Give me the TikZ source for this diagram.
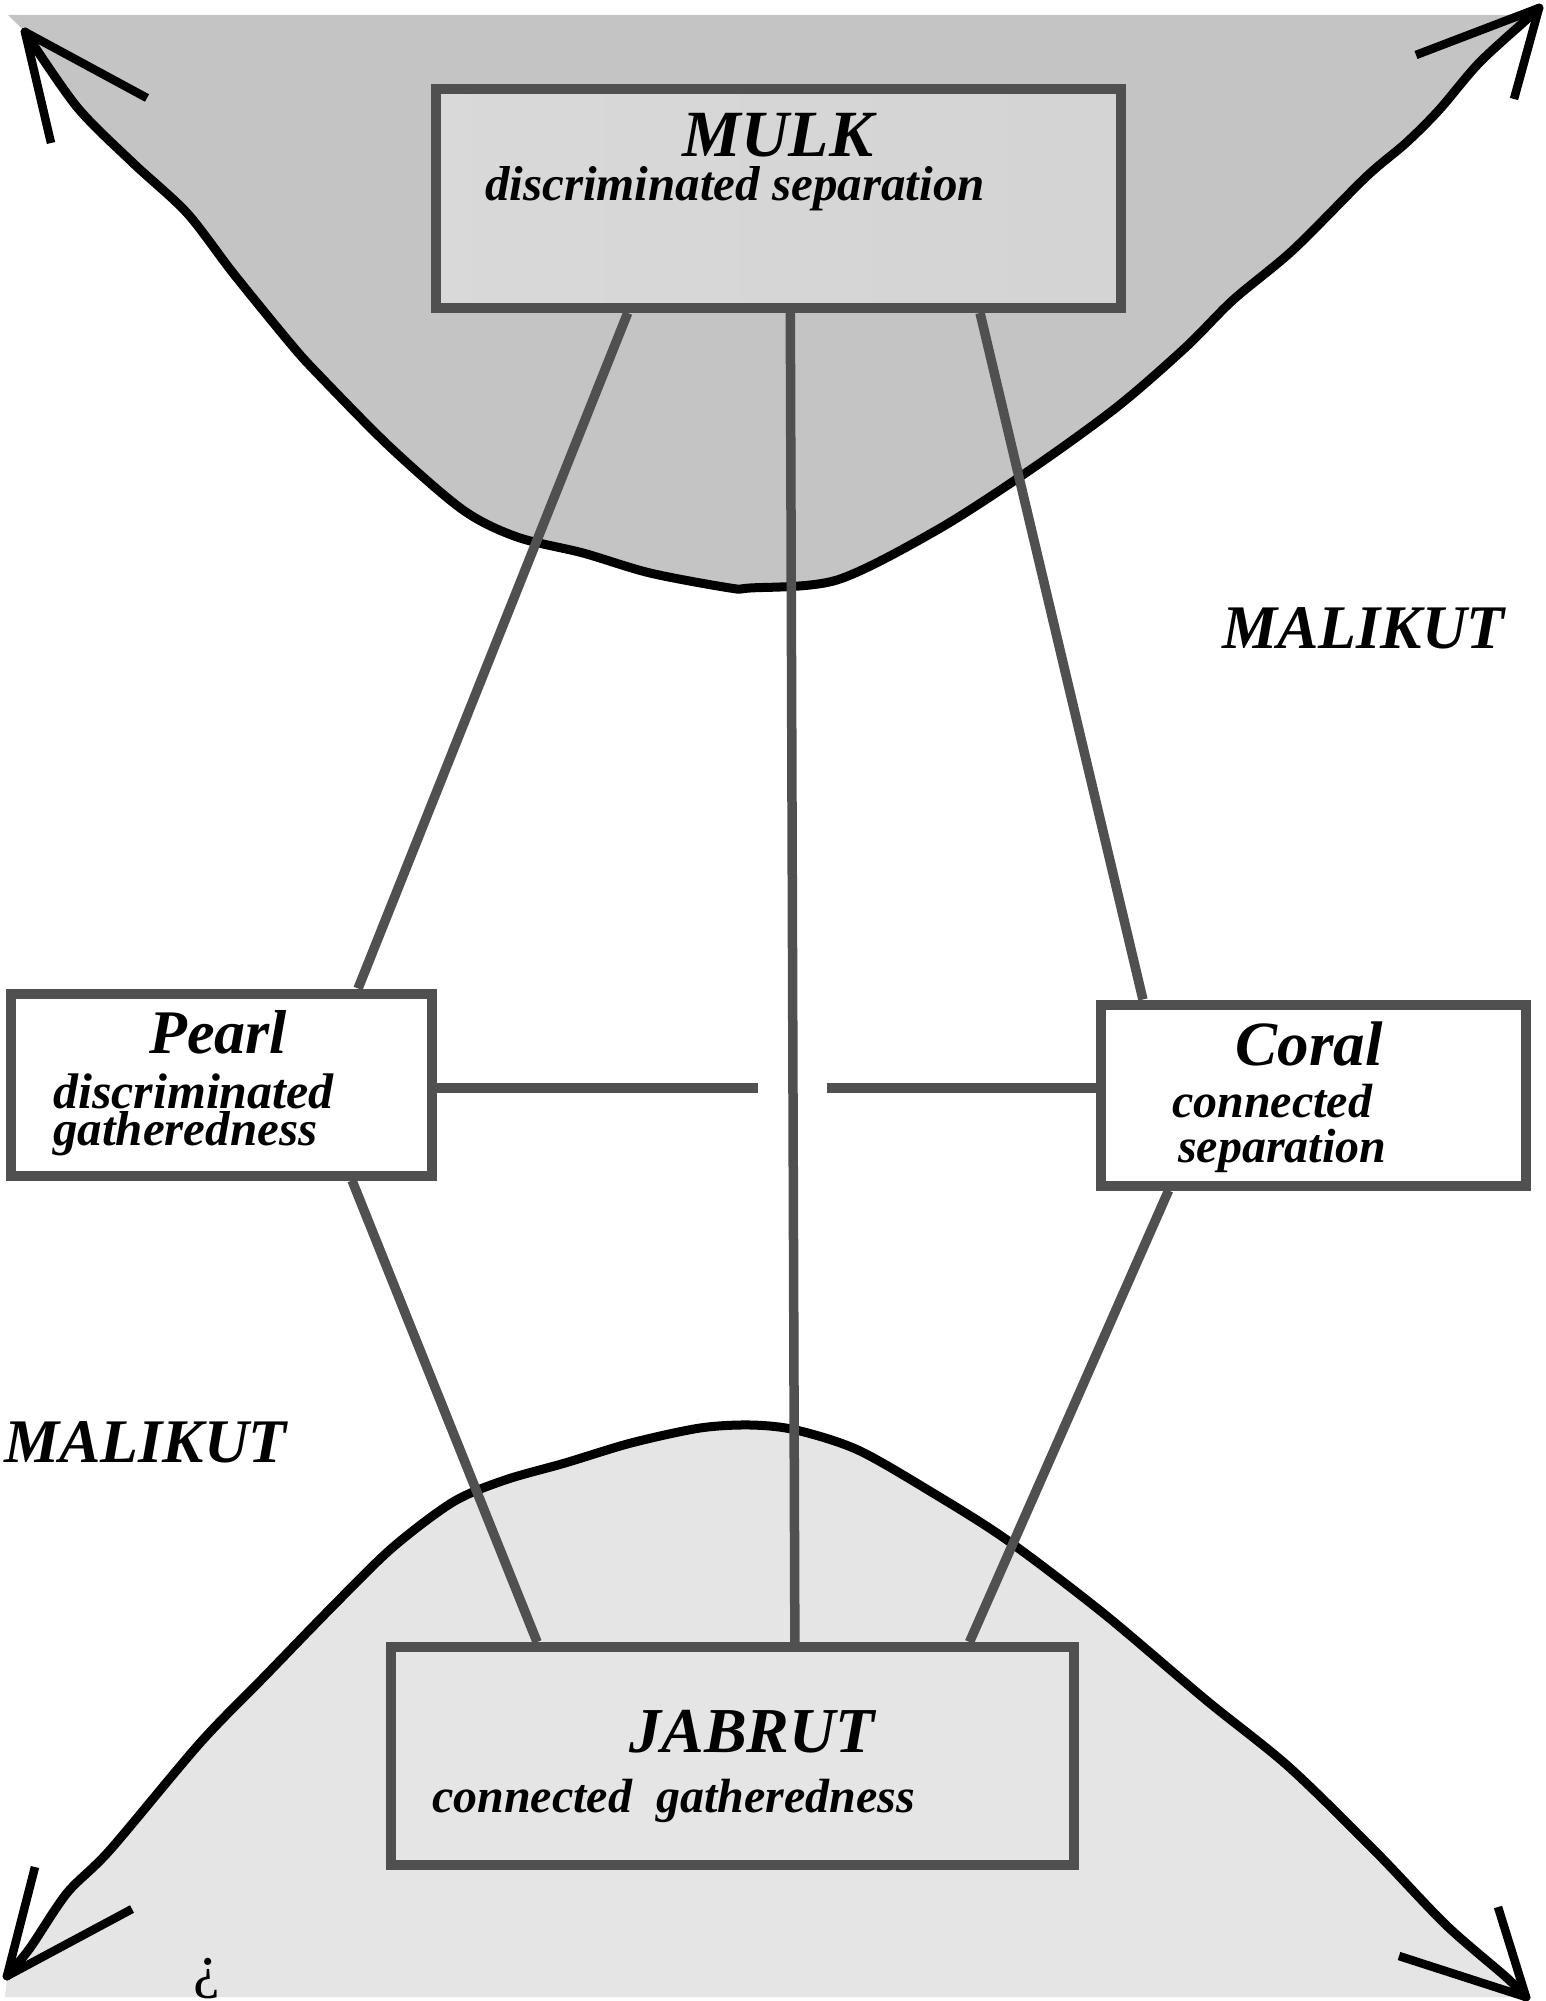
\documentclass[tikz,border=0pt]{standalone}
\usepackage{fontspec}
\setmainfont{Liberation Serif}
\usetikzlibrary{calc}
\definecolor{topgray}{HTML}{C4C4C4}
\definecolor{botgray}{HTML}{E5E5E5}
\definecolor{boxline}{HTML}{505050}
\newcommand\fsz[1]{\fontsize{#1}{#1}\selectfont}
\tikzset{
  t/.style={inner sep=0pt, font=\fsz{#1}\bfseries\itshape},
  boxframe/.style={draw=boxline, line width=10pt, inner sep=0pt},
  link/.style={draw=boxline, line width=9.5pt},
  curve/.style={draw=black, line width=9pt, line join=round, line cap=round},
  barb/.style={draw=black, line width=8.5pt, line join=round}
}
\begin{document}
\begin{tikzpicture}[x=1pt,y=-1pt]
\useasboundingbox (0,0) rectangle (1546,2001);
\fill[white] (0,0) rectangle (1546,2001);
% top shaded region
\fill[topgray] (8,15) -- plot[smooth] coordinates {(25,32) (77,107) (133,163) (187,213) (233,273) (290,343) (317,373) (390,447) (463,510) (517,537) (583,553) (650,573) (730,588) (750,588) (837,580) (937,530) (1030,470) (1117,407) (1186,347) (1233,300) (1293,250) (1366,177) (1406,143) (1439,110) (1479,63) (1526,20) (1539,10)} -- (1540,15) -- cycle;
% bottom shaded region
\fill[botgray] (5,1997) -- plot[smooth] coordinates {(7,1976) (30,1948) (67,1893) (110,1850) (200,1743) (266,1675) (332,1607) (392,1548) (453,1502) (505,1480) (565,1463) (631,1443) (700,1428) (751,1425) (796,1430) (858,1450) (933,1493) (1007,1540) (1103,1613) (1206,1700) (1289,1767) (1376,1852) (1446,1925) (1506,1977) (1526,1997)} -- (1535,1997) -- cycle;
% curves
\draw[curve] plot[smooth] coordinates {(25,32) (77,107) (133,163) (187,213) (233,273) (290,343) (317,373) (390,447) (463,510) (517,537) (583,553) (650,573) (730,588) (750,588) (837,580) (937,530) (1030,470) (1117,407) (1186,347) (1233,300) (1293,250) (1366,177) (1406,143) (1439,110) (1479,63) (1526,20) (1539,8)};
\draw[curve] plot[smooth] coordinates {(7,1976) (30,1948) (67,1893) (110,1850) (200,1743) (266,1675) (332,1607) (392,1548) (453,1502) (505,1480) (565,1463) (631,1443) (700,1428) (751,1425) (796,1430) (858,1450) (933,1493) (1007,1540) (1103,1613) (1206,1700) (1289,1767) (1376,1852) (1446,1925) (1506,1977) (1526,1997)};
% arrow heads
\coordinate (tlTip) at (25,32);
\coordinate (trTip) at (1539,8);
\coordinate (blTip) at (7,1976);
\coordinate (brTip) at (1526,1997);
\draw[barb] (51,143) -- (tlTip) -- (147,98);
\draw[barb] (1416,55) -- (trTip) -- (1514,99);
\draw[barb] (35,1867) -- (blTip) -- (132,1909);
\draw[barb] (1498,1907) -- (brTip) -- (1399,1956);
% boxes
\node[boxframe, minimum width=685pt, minimum height=219pt, left color=black!15, middle color=black!6, right color=black!17] (mulk) at (778.5,198.5) {};
\node[boxframe, fill=white, minimum width=421pt, minimum height=182pt] (pearl) at (221,1084.5) {};
\node[boxframe, fill=white, minimum width=425pt, minimum height=181pt] (coral) at (1313,1095) {};
\node[boxframe, fill=botgray, minimum width=683pt, minimum height=218pt] (jabrut) at (732.5,1756) {};
% connectors
\coordinate (gapL) at (758,1088);
\coordinate (gapR) at (827,1088);
\draw[link] ($(mulk.south west)!0.283!(mulk.south east)$) -- ($(pearl.north west)!0.818!(pearl.north east)$);
\draw[link] ($(mulk.south west)!0.517!(mulk.south east)$) -- ($(jabrut.north west)!0.590!(jabrut.north east)$);
\draw[link] ($(mulk.south west)!0.790!(mulk.south east)$) -- ($(coral.north west)!0.109!(coral.north east)$);
\draw[link] ($(pearl.south west)!0.804!(pearl.south east)$) -- ($(jabrut.north west)!0.218!(jabrut.north east)$);
\draw[link] ($(coral.south west)!0.168!(coral.south east)$) -- ($(jabrut.north west)!0.842!(jabrut.north east)$);
\draw[link] (pearl.east |- gapL) -- (gapL);
\draw[link] (gapR) -- (coral.west |- gapR);
% texts
\node[t=66, anchor=base] (mulkT) at (778,157) {MULK};
\node[t=49, anchor=base] (mulkS) at (735,201) {discriminated separation};
\node[t=62, anchor=base] (pearlT) at (218,1053) {Pearl};
\node[t=50, anchor=base west] (pearlS1) at (53,1108) {discriminated};
\node[t=49, anchor=base west] (pearlS2) at (53,1145) {gatheredness};
\node[t=63, anchor=base] (coralT) at (1309,1065) {Coral};
\node[t=48, anchor=base west] (coralS1) at (1172,1117) {connected};
\node[t=48, anchor=base west] (coralS2) at (1178,1162) {separation};
\node[t=64, anchor=base] (jabrutT) at (752,1752) {JABRUT};
\node[t=48, anchor=base west] (jabrutS) at (432,1812) {connected~~gatheredness};
\node[t=62, anchor=base west] (malR) at (1222,648) {MALIKUT};
\node[t=62, anchor=base west] (malL) at (4,1462) {MALIKUT};
\node[inner sep=0pt, font=\fsz{60}, anchor=base] (inv) at (207,1986) {¿};
\end{tikzpicture}
\end{document}
